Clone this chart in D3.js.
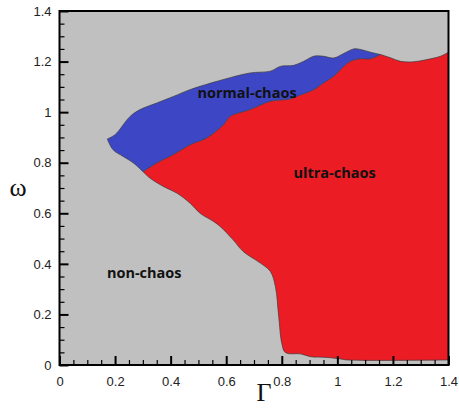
<!DOCTYPE html>
<html><head><meta charset="utf-8">
<script src="https://cdn.jsdelivr.net/npm/d3@7"></script>
<style>body{margin:0;background:#fff;} svg{display:block;}</style>
</head><body>
<svg id="c" width="459" height="408"></svg>
<script>
// ---- data (Gamma, omega) ----
const xTicks = [0,0.2,0.4,0.6,0.8,1,1.2,1.4];
const yTicks = [0,0.2,0.4,0.6,0.8,1,1.2,1.4];
const xTickLabels = ["0","0.2","0.4","0.6","0.8","1","1.2","1.4"];
const yTickLabels = ["0","0.2","0.4","0.6","0.8","1","1.2","1.4"];
// blue region: upper edge from left tip to meeting point
const normalUpper = [[0.172,0.894],[0.2,0.911],[0.254,0.983],[0.29,1.01],[0.35,1.036],[0.41,1.062],[0.47,1.089],[0.59,1.129],[0.686,1.155],[0.759,1.162],[0.795,1.181],[0.843,1.185],[0.879,1.201],[0.915,1.221],[0.951,1.221],[0.987,1.214],[1.023,1.232],[1.059,1.25],[1.083,1.248],[1.119,1.237],[1.155,1.228]];
// blue region: lower-left edge from tip to junction
const normalLowerLeft = [[0.172,0.894],[0.193,0.851],[0.229,0.825],[0.265,0.8],[0.301,0.764]];
// boundary between blue and red, from junction to meeting point
const ultraUpper = [[0.301,0.764],[0.35,0.799],[0.41,0.832],[0.47,0.871],[0.53,0.898],[0.59,0.95],[0.614,0.983],[0.686,1.01],[0.759,1.043],[0.831,1.052],[0.855,1.063],[0.915,1.089],[0.951,1.116],[0.987,1.142],[1.023,1.181],[1.047,1.201],[1.083,1.211],[1.119,1.211],[1.155,1.228]];
// red region top edge beyond the meeting point
const ultraTop = [[1.155,1.228],[1.191,1.215],[1.227,1.201],[1.275,1.199],[1.323,1.208],[1.371,1.221],[1.4,1.237]];
// red region lower-left edge (boundary with non-chaos)
const ultraLower = [[0.301,0.764],[0.326,0.739],[0.374,0.706],[0.422,0.68],[0.47,0.64],[0.506,0.6],[0.554,0.568],[0.578,0.548],[0.625,0.495],[0.661,0.449],[0.723,0.403],[0.759,0.37],[0.777,0.31],[0.789,0.191],[0.8,0.086],[0.813,0.049],[0.867,0.044],[0.903,0.033],[0.963,0.03],[1.011,0.024],[1.035,0.02],[1.4,0.02]];
const regionLabels = [
  {text:"normal-chaos", x:0.675, y:1.055},
  {text:"ultra-chaos", x:0.99, y:0.74},
  {text:"non-chaos", x:0.305, y:0.345}
];

// ---- layout ----
const L=59.5, R=448.5, T=11, B=365;
const svg = d3.select("#c");
const x = d3.scaleLinear().domain([0,1.4]).range([L,R]);
const y = d3.scaleLinear().domain([0,1.4]).range([B,T]);

svg.append("rect").attr("x",L).attr("y",T).attr("width",R-L).attr("height",B-T).attr("fill","#c0c0c0");

const line = d3.line().x(d=>x(d[0])).y(d=>y(d[1])).curve(d3.curveCatmullRom.alpha(0.5));

svg.append("defs").append("clipPath").attr("id","pc").append("rect")
  .attr("x",L).attr("y",T).attr("width",R-L).attr("height",B-T);
const g = svg.append("g").attr("clip-path","url(#pc)");

const redPath = line(ultraUpper) + line(ultraTop).replace(/^M/,"L") + line(ultraLower.slice().reverse()).replace(/^M/,"L") + "Z";
g.append("path").attr("d",redPath).attr("fill","#ec1c24").attr("stroke","none");
const bluePath = line(normalUpper) + line(ultraUpper.slice().reverse()).replace(/^M/,"L") + line(normalLowerLeft.slice().reverse()).replace(/^M/,"L") + "Z";
g.append("path").attr("d",bluePath).attr("fill","#3d47c6").attr("stroke","none");
[normalUpper, normalLowerLeft, ultraUpper, ultraTop, ultraLower].forEach(s=>{
  g.append("path").attr("d",line(s)).attr("fill","none").attr("stroke","#3a3a3a").attr("stroke-width",0.7);
});

// ---- axes ----
const xAxis = d3.axisBottom(x).tickValues(xTicks).tickFormat((d,i)=>xTickLabels[i]).tickSizeInner(-9).tickSizeOuter(0).tickPadding(14);
const yAxis = d3.axisLeft(y).tickValues(yTicks).tickFormat((d,i)=>yTickLabels[i]).tickSizeInner(-9).tickSizeOuter(0).tickPadding(14);
const minor = d3.range(0,1.4001,0.05).filter(v=>Math.abs(v*5-Math.round(v*5))>1e-6);
const gx = svg.append("g").attr("transform",`translate(0,${B})`).call(xAxis);
const gy = svg.append("g").attr("transform",`translate(${L},0)`).call(yAxis);
svg.append("g").attr("transform",`translate(0,${B})`).call(d3.axisBottom(x).tickValues(minor).tickFormat("").tickSizeInner(-5).tickSizeOuter(0)).select(".domain").remove();
svg.append("g").attr("transform",`translate(${L},0)`).call(d3.axisLeft(y).tickValues(minor).tickFormat("").tickSizeInner(-5).tickSizeOuter(0)).select(".domain").remove();
svg.selectAll(".tick line").attr("stroke","#000").attr("stroke-width",1.2);
gx.selectAll(".tick line").attr("stroke-width",2);
gy.selectAll(".tick line").attr("stroke-width",2);
gx.select(".domain").remove(); gy.select(".domain").remove();
svg.selectAll(".tick text").attr("font-family","'Liberation Sans',Arial,sans-serif").attr("font-size",13).attr("fill","#222");
gx.selectAll(".tick text").attr("dy","0.55em");
gy.selectAll(".tick text").attr("dx","6");

// frame
svg.append("rect").attr("x",L).attr("y",T).attr("width",R-L).attr("height",B-T)
  .attr("fill","none").attr("stroke","#000").attr("stroke-width",2);

// region labels
svg.selectAll("text.rl").data(regionLabels).enter().append("text").attr("class","rl")
  .attr("x",d=>x(d.x)).attr("y",d=>y(d.y)).attr("text-anchor","middle")
  .attr("font-family","'Open Sans',sans-serif").attr("font-weight",700).attr("font-size",14.5)
  .attr("fill","#111").text(d=>d.text);

// axis titles
svg.append("text").attr("x",264).attr("y",401).attr("text-anchor","middle")
  .attr("font-family","'Liberation Serif','Times New Roman',serif").attr("font-size",26).attr("fill","#111").text("Γ");
svg.append("text").attr("x",18).attr("y",196).attr("text-anchor","middle")
  .attr("font-family","'Liberation Serif','Times New Roman',serif").attr("font-size",26).attr("fill","#111").text("ω");
</script>
</body></html>
